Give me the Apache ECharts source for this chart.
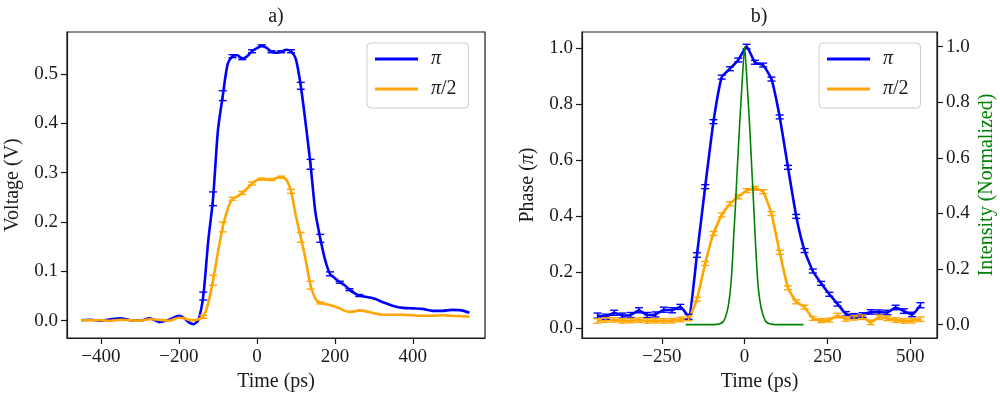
<!DOCTYPE html>
<html><head><meta charset="utf-8">
<script src="https://cdn.jsdelivr.net/npm/echarts@6/dist/echarts.min.js"></script>
<style>html,body{margin:0;padding:0;background:#fff}#c{width:1000px;height:398px}</style>
</head><body><div id="c"></div>
<script>
// ---------- Panel a) ----------
const timeA = [-450,-425,-400,-375,-350,-325,-300,-275,-250,-225,-200,
  -187.5,-175,-162.5,-150,-137.5,-125,-112.5,-100,-87.5,-75,-62.5,-50,-37.5,-25,-12.5,0,12.5,25,37.5,50,62.5,75,87.5,100,112.5,125,137.5,150,162.5,175,187.5,200,212.5,225,237.5,250,262.5,275,
  300,325,350,375,400,425,450,475,500,525,545];
const voltPi = [0.001,0.002,0.000,0.003,0.005,0.001,0.000,0.005,-0.003,0.002,0.010,
  0.006,-0.003,-0.007,0.002,0.050,0.160,0.247,0.385,0.456,0.520,0.536,0.538,0.531,0.536,0.546,0.552,0.557,0.553,0.545,0.543,0.545,0.549,0.546,0.530,0.476,0.400,0.317,0.220,0.167,0.123,0.095,0.086,0.078,0.072,0.063,0.056,0.051,0.049,
  0.045,0.037,0.030,0.026,0.025,0.024,0.020,0.020,0.022,0.021,0.016];
const voltHalf = [0.001,0.001,0.001,0.000,0.002,0.001,0.000,0.003,0.002,0.000,0.006,
  0.005,0.002,0.001,0.003,0.008,0.035,0.082,0.138,0.190,0.226,0.247,0.252,0.259,0.268,0.278,0.285,0.287,0.286,0.286,0.289,0.291,0.286,0.262,0.212,0.169,0.124,0.072,0.045,0.036,0.034,0.032,0.029,0.025,0.020,0.018,0.019,0.021,0.020,
  0.015,0.012,0.012,0.012,0.011,0.010,0.010,0.011,0.010,0.009,0.008];
const errPiA = [0,0,0,0,0,0,0,0,0,0,0,
  0,0,0,0,0.008,0,0.014,0,0.010,0,0.003,0,0.002,0,0.003,0,0.002,0,0.002,0,0.002,0,0.003,0,0.007,0,0.010,0,0.008,0,0.004,0,0.002,0,0.002,0,0.002,0,
  0,0,0,0,0,0,0,0,0,0,0];
const errHalfA = [0,0,0,0,0,0,0,0,0,0,0,
  0,0,0,0,0.003,0,0.010,0,0.010,0,0.003,0,0.003,0,0.003,0,0.002,0,0.002,0,0.002,0,0.004,0,0.010,0,0.008,0,0.002,0,0,0,0,0,0,0,0,0,
  0,0,0,0,0,0,0,0,0,0,0];
const ticksXA = [-400,-200,0,200,400];
const ticksYA = [0,0.1,0.2,0.3,0.4,0.5];

// ---------- Panel b) ----------
const timeB = [-444,-419,-394,-369,-344,-319,-294,-269,-244,-219,-194,-169,-144,-119,-94,-69,-44,-19,6,31,56,81,106,131,156,181,206,231,256,281,306,331,356,381,406,431,456,481,506,531];
const phasePi = [0.046,0.042,0.056,0.046,0.048,0.065,0.048,0.050,0.067,0.065,0.077,0.042,0.262,0.506,0.738,0.897,0.927,0.958,1.006,0.950,0.940,0.890,0.755,0.575,0.400,0.278,0.205,0.161,0.122,0.087,0.052,0.045,0.048,0.059,0.058,0.057,0.075,0.062,0.050,0.083];
const phaseHalf = [0.027,0.030,0.031,0.027,0.028,0.030,0.027,0.028,0.027,0.028,0.032,0.036,0.104,0.232,0.339,0.405,0.445,0.470,0.492,0.500,0.488,0.410,0.272,0.145,0.095,0.076,0.036,0.028,0.030,0.046,0.034,0.038,0.040,0.022,0.040,0.036,0.030,0.027,0.028,0.033];
const errPiB = [0.009,0.009,0.009,0.009,0.009,0.009,0.009,0.009,0.009,0.009,0.009,0.009,0.008,0.007,0.007,0.007,0.007,0.007,0.008,0.007,0.007,0.007,0.007,0.007,0.007,0.007,0.007,0.007,0.007,0.007,0.008,0.008,0.008,0.008,0.008,0.008,0.008,0.008,0.008,0.009];
const errHalfB = [0.008,0.008,0.008,0.008,0.008,0.008,0.008,0.008,0.008,0.008,0.008,0.008,0.007,0.007,0.007,0.007,0.007,0.007,0.007,0.007,0.007,0.007,0.007,0.007,0.007,0.007,0.007,0.007,0.007,0.008,0.008,0.008,0.008,0.008,0.008,0.008,0.008,0.008,0.008,0.008];
const timeG = [-178,-150,-125,-100,-85,-75,-65,-58,-50,-43,-38,-33,-28,-23,-15,-8,0,8,15,22,27,32,37,42,50,58,65,75,85,100,125,150,178];
const intensity = [0,0,0,0,0.001,0.003,0.010,0.027,0.062,0.124,0.200,0.315,0.420,0.540,0.720,0.860,1.000,0.860,0.720,0.556,0.440,0.315,0.205,0.124,0.060,0.027,0.010,0.003,0.001,0,0,0,0];
const ticksXB = [-250,0,250,500];
const ticksYB = [0,0.2,0.4,0.6,0.8,1.0];

const BLUE = '#0000ff', ORANGE = '#ffa500', GREEN = '#008000', INK = '#1a1a1a';
const FONT = '"Liberation Serif", "DejaVu Serif", serif';

function pairs(t, v) { return t.map((x, i) => [x, v[i]]); }
function errData(t, v, e) {
  const out = [];
  t.forEach((x, i) => { if (e[i] > 0) out.push([x, v[i] - e[i], v[i] + e[i]]); });
  return out;
}
function errSeries(name, data, color, xi, yi) {
  return {
    type: 'custom', name, xAxisIndex: xi, yAxisIndex: yi, data, z: 3, silent: true,
    encode: { x: 0, y: [1, 2] },
    renderItem(params, api) {
      const x = api.value(0), lo = api.value(1), hi = api.value(2);
      const p1 = api.coord([x, lo]), p2 = api.coord([x, hi]);
      const w = 4, st = { stroke: color, lineWidth: 1.4 };
      return { type: 'group', children: [
        { type: 'line', shape: { x1: p1[0], y1: p1[1], x2: p2[0], y2: p2[1] }, style: st },
        { type: 'line', shape: { x1: p1[0] - w, y1: p1[1], x2: p1[0] + w, y2: p1[1] }, style: st },
        { type: 'line', shape: { x1: p2[0] - w, y1: p2[1], x2: p2[0] + w, y2: p2[1] }, style: st }
      ] };
    }
  };
}
const fmtX = v => (v < 0 ? '\u2212' + Math.abs(v) : String(v));
const fmtY = v => v.toFixed(1);
const labelStyle = { color: INK, fontFamily: FONT, fontSize: 19 };
const nameStyle = { color: INK, fontFamily: FONT, fontSize: 20 };

function xAxis(grid, min, max, ticks) {
  return {
    type: 'value', gridIndex: grid, min, max,
    axisLine: { show: true, onZero: false, lineStyle: { color: INK, width: 1.2 } },
    axisTick: { show: true, length: 6, customValues: ticks, lineStyle: { color: INK, width: 1.2 } },
    axisLabel: { customValues: ticks, formatter: fmtX, margin: 10, ...labelStyle },
    splitLine: { show: false },
    name: 'Time (ps)', nameLocation: 'middle', nameGap: 34, nameTextStyle: nameStyle
  };
}
function yAxis(grid, min, max, ticks, pos, name, nameColor, gap) {
  return {
    type: 'value', gridIndex: grid, min, max, position: pos,
    axisLine: { show: true, onZero: false, lineStyle: { color: INK, width: 1.2 } },
    axisTick: { show: true, length: 6, customValues: ticks, lineStyle: { color: INK, width: 1.2 } },
    axisLabel: { customValues: ticks, formatter: fmtY, margin: 9, ...labelStyle },
    splitLine: { show: false },
    name, nameLocation: 'middle', nameGap: gap, nameRotate: 90,
    nameTextStyle: { ...nameStyle, color: nameColor, rich: { i: { fontStyle: 'italic', fontFamily: FONT, fontSize: 20, color: nameColor } } }
  };
}
function legend(left) {
  return {
    left, top: 43, orient: 'vertical', data: ['π', 'π/2'], selectedMode: false,
    icon: 'rect', itemWidth: 43, itemHeight: 3, itemGap: 10,
    padding: [6, 12, 9, 8],
    backgroundColor: 'rgba(255,255,255,0.8)', borderColor: '#cccccc', borderWidth: 1, borderRadius: 4,
    formatter: n => (n === 'π' ? '{i|π}' : '{i|π}{n|/2}'),
    textStyle: {
      color: INK, fontFamily: FONT, fontSize: 20, lineHeight: 20, padding: [0, 0, 0, 8],
      rich: { i: { fontStyle: 'italic', fontFamily: FONT, fontSize: 20, color: INK },
              n: { fontFamily: FONT, fontSize: 20, color: INK } }
    }
  };
}
function lineSeries(name, data, color, xi, yi, smooth, width) {
  return { type: 'line', name, data, xAxisIndex: xi, yAxisIndex: yi, showSymbol: false, smooth,
           color, lineStyle: { color, width }, z: 2, silent: true };
}

const chart = echarts.init(document.getElementById('c'), null, { renderer: 'canvas' });
chart.setOption({
  animation: false,
  backgroundColor: '#fff',
  grid: [
    { left: 67, right: 515, top: 32, bottom: 60, show: true, borderColor: INK, borderWidth: 1.2, backgroundColor: 'transparent' },
    { left: 582, right: 63, top: 32, bottom: 60, show: true, borderColor: INK, borderWidth: 1.2, backgroundColor: 'transparent' }
  ],
  xAxis: [ xAxis(0, -487, 585, ticksXA), xAxis(1, -491, 581, ticksXB) ],
  yAxis: [
    yAxis(0, -0.035, 0.585, ticksYA, 'left', 'Voltage (V)', INK, 44),
    yAxis(1, -0.034, 1.058, ticksYB, 'left', 'Phase ({i|π})', INK, 44),
    yAxis(1, -0.048, 1.053, ticksYB, 'right', 'Intensity (Normalized)', GREEN, 40)
  ],
  legend: [ legend(367), legend(819) ],
  graphic: [
    { type: 'text', x: 276, y: 17, style: { text: 'a)', fill: INK, font: '20px ' + FONT, textAlign: 'center', textVerticalAlign: 'middle' } },
    { type: 'text', x: 759, y: 17, style: { text: 'b)', fill: INK, font: '20px ' + FONT, textAlign: 'center', textVerticalAlign: 'middle' } }
  ],
  series: [
    lineSeries('π', pairs(timeA, voltPi), BLUE, 0, 0, 0.25, 2.6),
    lineSeries('π/2', pairs(timeA, voltHalf), ORANGE, 0, 0, 0.25, 2.6),
    errSeries('π err a', errData(timeA, voltPi, errPiA), BLUE, 0, 0),
    errSeries('π/2 err a', errData(timeA, voltHalf, errHalfA), ORANGE, 0, 0),
    lineSeries('π', pairs(timeB, phasePi), BLUE, 1, 1, 0.15, 2.6),
    lineSeries('π/2', pairs(timeB, phaseHalf), ORANGE, 1, 1, 0.15, 2.6),
    errSeries('π err b', errData(timeB, phasePi, errPiB), BLUE, 1, 1),
    errSeries('π/2 err b', errData(timeB, phaseHalf, errHalfB), ORANGE, 1, 1),
    { type: 'line', name: 'Intensity', data: pairs(timeG, intensity), xAxisIndex: 1, yAxisIndex: 2,
      showSymbol: false, smooth: 0.2, color: GREEN, lineStyle: { color: GREEN, width: 1.6 }, z: 4, silent: true }
  ]
});
</script></body></html>
